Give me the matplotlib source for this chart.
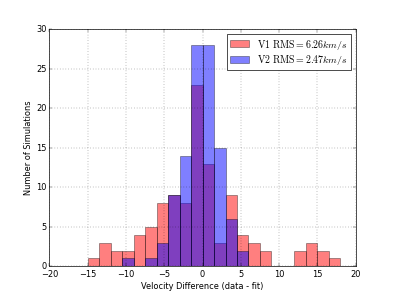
import matplotlib
matplotlib.use("Agg")
import matplotlib.pyplot as plt
import numpy as np

plt.style.use('classic')
plt.rcParams['mathtext.fontset'] = 'cm'

bin_edges = np.arange(-15, 18.01, 1.5)
v1_counts = [1, 3, 2, 2, 4, 5, 8, 9, 8, 23, 13, 3, 9, 4, 3, 2, 0, 0, 2, 3, 2, 1]
v2_counts = [0, 0, 0, 1, 0, 1, 3, 9, 14, 28, 28, 15, 6, 2, 0, 0, 0, 0, 0, 0, 0, 0]
v1_label = r'$\mathrm{V1\ RMS} = 6.26 km/s$'
v2_label = r'$\mathrm{V2\ RMS} = 2.47 km/s$'

centers = (bin_edges[:-1] + bin_edges[1:]) / 2

fig = plt.figure(figsize=(8, 6), dpi=49.4)
fig.patch.set_facecolor('white')
ax = fig.add_subplot(111)
ax.hist(centers, bins=bin_edges, weights=v1_counts, color='red', alpha=0.5, label=v1_label)
ax.hist(centers, bins=bin_edges, weights=v2_counts, color='blue', alpha=0.5, label=v2_label)
ax.set_xlim(-20, 20)
ax.set_ylim(0, 30)
ax.grid(True)
ax.set_xlabel('Velocity Difference (data - fit)')
ax.set_ylabel('Number of Simulations')
ax.legend(loc='upper right', fontsize=14.4, labelspacing=0.15, borderpad=0.3)
fig.savefig('out.png', dpi=49.4, facecolor='white')
